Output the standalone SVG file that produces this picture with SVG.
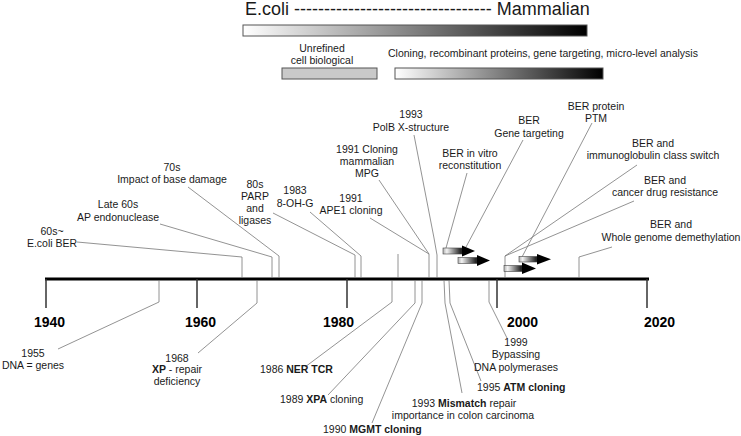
<svg xmlns="http://www.w3.org/2000/svg" width="741" height="436" viewBox="0 0 741 436">
<defs>
<linearGradient id="wb" x1="0" y1="0" x2="1" y2="0">
<stop offset="0" stop-color="#ffffff"/>
<stop offset="1" stop-color="#000000"/>
</linearGradient>
<linearGradient id="ab" x1="0" y1="0" x2="1" y2="0">
<stop offset="0" stop-color="#b0b0b0"/>
<stop offset="0.2" stop-color="#f2f2f2"/>
<stop offset="1" stop-color="#111111"/>
</linearGradient>
</defs>
<style>
text{font-family:"Liberation Sans",Arial,Helvetica,sans-serif;fill:#1a1a1a;font-size:10.5px}
.c{text-anchor:middle}
.b{font-weight:bold}
.yr{font-size:14px;font-weight:bold;fill:#000}
.ld{fill:none;stroke:#777;stroke-width:0.8}
.tk{stroke:#333;stroke-width:1.5}
.bar{stroke:#555;stroke-width:1}
.abody{fill:url(#ab);stroke:#444;stroke-width:0.6}
.ahead{fill:#000}
</style>
<rect width="741" height="436" fill="#fff"/>

<g id="header">
<text x="245" y="15" style="font-size:18px">E.coli --------------------------------- Mammalian</text>
<rect class="bar" x="243" y="25" width="344" height="11" fill="url(#wb)"/>
<text class="c" x="322" y="51.5">Unrefined</text>
<text class="c" x="322" y="64">cell biological</text>
<rect class="bar" x="282" y="68" width="95" height="11" fill="#c9c9c9"/>
<text x="388" y="57">Cloning, recombinant proteins, gene targeting, micro-level analysis</text>
<rect class="bar" x="395" y="68" width="208" height="11" fill="url(#wb)"/>
</g>

<g id="axis">
<line x1="45" y1="279" x2="649" y2="279" stroke="#000" stroke-width="3"/>
<line class="tk" x1="46" y1="279" x2="46" y2="308"/>
<line class="tk" x1="197" y1="279" x2="197" y2="308"/>
<line class="tk" x1="347" y1="279" x2="347" y2="308"/>
<line class="tk" x1="497" y1="279" x2="497" y2="308"/>
<line class="tk" x1="647" y1="279" x2="647" y2="308"/>
<text class="yr" x="34" y="327">1940</text>
<text class="yr" x="185" y="327">1960</text>
<text class="yr" x="323" y="327">1980</text>
<text class="yr" x="507" y="327">2000</text>
<text class="yr" x="644" y="327">2020</text>
</g>

<g id="connectors">
<path class="ld" d="M77,242 L242,257 L242,278"/>
<path class="ld" d="M160,224 L272,257 L272,278"/>
<path class="ld" d="M188,187 L279,256 L279,278"/>
<path class="ld" d="M273,213 L355,255 L355,278"/>
<path class="ld" d="M310,212 L361,256 L361,278"/>
<path class="ld" d="M398,254 L398,278"/>
<path class="ld" d="M370,218 L429,254 L429,278"/>
<path class="ld" d="M379,180 L429,254"/>
<path class="ld" d="M414,135 L434,238 L437,255 L437,278"/>
<path class="ld" d="M467,173 L446,248"/>
<path class="ld" d="M523,140 L466,247"/>
<path class="ld" d="M592,123 L522,257"/>
<path class="ld" d="M637,165 L505,256"/>
<path class="ld" d="M634,201 L505,256 L505,278"/>
<path class="ld" d="M612,247 L579,257 L579,278"/>
<path class="ld" d="M159,280 L159,302 L58,349"/>
<path class="ld" d="M257,280 L257,303 L198,353"/>
<path class="ld" d="M392,280 L392,302 L305,367"/>
<path class="ld" d="M415,280 L415,303 L328,395"/>
<path class="ld" d="M422,280 L422,303 L372,423"/>
<path class="ld" d="M444,280 L445,303 L462,393"/>
<path class="ld" d="M449,280 L450,303 L481,381"/>
<path class="ld" d="M489,280 L489,302 L507,338"/>
</g>

<g id="arrows">
<rect class="abody" x="443" y="248" width="19" height="6"/>
<polygon class="ahead" points="462,245.5 475,251 462,256.5"/>
<rect class="abody" x="458" y="257.5" width="19" height="6"/>
<polygon class="ahead" points="477,255 490,260.5 477,266"/>
<rect class="abody" x="519" y="256.5" width="18" height="5.5"/>
<polygon class="ahead" points="537,254 551,259.2 537,264.5"/>
<rect class="abody" x="504" y="265.5" width="18" height="6"/>
<polygon class="ahead" points="522,262.5 536,268.5 522,274"/>
</g>

<g id="n-ecoli-ber"><text class="c" x="52" y="235">60s~</text><text class="c" x="52" y="247">E.coli BER</text></g>
<g id="n-ap-endo"><text class="c" x="118" y="208">Late 60s</text><text class="c" x="118" y="221">AP endonuclease</text></g>
<g id="n-base-damage"><text class="c" x="172" y="171">70s</text><text class="c" x="172" y="183">Impact of base damage</text></g>
<g id="n-parp"><text class="c" x="255" y="188">80s</text><text class="c" x="255" y="200">PARP</text><text class="c" x="255" y="212">and</text><text class="c" x="255" y="224">ligases</text></g>
<g id="n-8ohg"><text class="c" x="295" y="194">1983</text><text class="c" x="295" y="207">8-OH-G</text></g>
<g id="n-mpg"><text class="c" x="367" y="153">1991 Cloning</text><text class="c" x="367" y="165">mammalian</text><text class="c" x="367" y="177">MPG</text></g>
<g id="n-ape1"><text class="c" x="351" y="202">1991</text><text class="c" x="351" y="214">APE1 cloning</text></g>
<g id="n-polb"><text class="c" x="411" y="118">1993</text><text class="c" x="411" y="131">PolB X-structure</text></g>
<g id="n-invitro"><text class="c" x="470" y="157">BER in vitro</text><text class="c" x="470" y="169">reconstitution</text></g>
<g id="n-genetarget"><text class="c" x="529" y="124">BER</text><text class="c" x="529" y="137">Gene targeting</text></g>
<g id="n-ptm"><text class="c" x="596" y="110">BER protein</text><text class="c" x="596" y="122">PTM</text></g>
<g id="n-immuno"><text class="c" x="653" y="147">BER and</text><text class="c" x="653" y="159">immunoglobulin class switch</text></g>
<g id="n-cancer"><text class="c" x="665" y="184">BER and</text><text class="c" x="665" y="196">cancer drug resistance</text></g>
<g id="n-demeth"><text class="c" x="671" y="228">BER and</text><text class="c" x="671" y="241">Whole genome demethylation</text></g>

<g id="n-1955"><text class="c" x="33" y="357">1955</text><text class="c" x="33" y="369">DNA = genes</text></g>
<g id="n-1968"><text class="c" x="177" y="362">1968</text><text class="c" x="177" y="373"><tspan class="b">XP</tspan> - repair</text><text class="c" x="177" y="385">deficiency</text></g>
<g id="n-1986"><text x="260" y="373">1986 <tspan class="b">NER TCR</tspan></text></g>
<g id="n-1989"><text x="280" y="403">1989 <tspan class="b">XPA</tspan> cloning</text></g>
<g id="n-1990"><text x="323" y="433">1990 <tspan class="b">MGMT cloning</tspan></text></g>
<g id="n-1993"><text class="c" x="464" y="407">1993 <tspan class="b">Mismatch</tspan> repair</text><text class="c" x="463" y="419">importance in colon carcinoma</text></g>
<g id="n-1995"><text x="477" y="391">1995 <tspan class="b">ATM cloning</tspan></text></g>
<g id="n-1999"><text class="c" x="516" y="346">1999</text><text class="c" x="516" y="358">Bypassing</text><text class="c" x="516" y="371">DNA polymerases</text></g>
</svg>
